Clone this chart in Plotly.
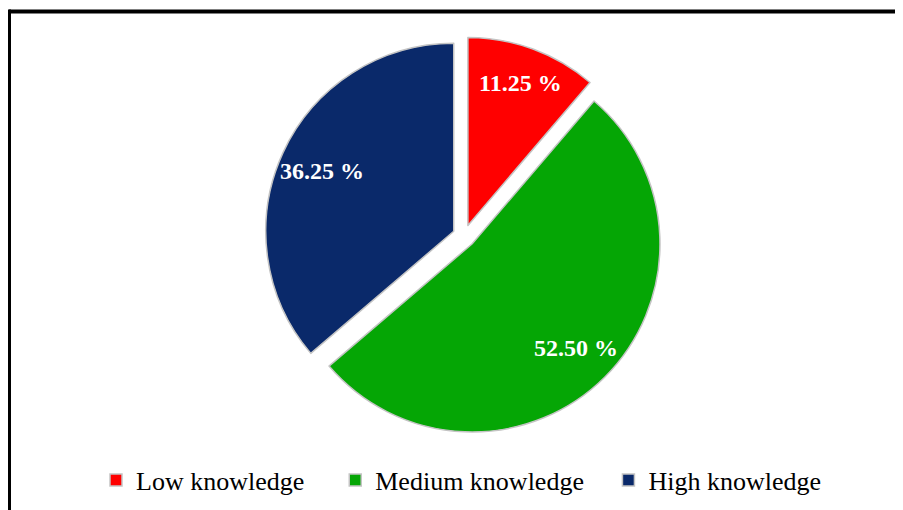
import math
import plotly.graph_objects as go

# ---- data ----
labels = ["Low knowledge", "Medium knowledge", "High knowledge"]
values = [11.25, 52.50, 36.25]
colors = ["#FF0000", "#05A605", "#0A296A"]
label_texts = ["11.25 %", "52.50 %", "36.25 %"]

# ---- layout geometry (page pixels; page body has an 8px margin) ----
OFF = 8
W, H = 903 - OFF, 510 - OFF
CX, CY = 464 - OFF, 236 - OFF   # pie centre
R = 188                         # pie radius
PULL = 0.06
LABEL_FRAC = [0.81, 0.78, 0.77]

box = 2 * R * (1 + PULL)
dom_x = [(CX - box / 2) / W, (CX + box / 2) / W]
dom_y = [1 - (CY + box / 2) / H, 1 - (CY - box / 2) / H]

# trailing non-breaking spaces widen legend entry spacing like the original
pad = [4, 3, 0]
legend_labels = [l + "\u00a0" * p for l, p in zip(labels, pad)]

fig = go.Figure(go.Pie(
    labels=legend_labels,
    values=values,
    sort=False,
    direction="clockwise",
    rotation=0,
    pull=[PULL] * len(values),
    marker=dict(colors=colors, line=dict(color="#C4C4C4", width=1.5)),
    textinfo="none",
    hoverinfo="label+percent",
    domain=dict(x=dom_x, y=dom_y),
))

# slice labels placed along each slice's bisector
annotations = []
total = sum(values)
cum = 0.0
for v, t, f in zip(values, label_texts, LABEL_FRAC):
    mid = (cum + v / 2) / total * 2 * math.pi
    cum += v
    d = (PULL + f) * R
    px = CX + d * math.sin(mid)
    py = CY - d * math.cos(mid)
    annotations.append(dict(
        x=px / W, y=1 - py / H, xref="paper", yref="paper",
        text="<b>" + t + "</b>", showarrow=False,
        font=dict(family="Liberation Serif", size=24, color="white"),
        xanchor="center", yanchor="middle",
    ))

bx, by = 9 - OFF, 11.5 - OFF
shapes = [
    dict(type="line", xref="paper", yref="paper",
         x0=bx / W, x1=1.02, y0=1 - by / H, y1=1 - by / H,
         line=dict(color="black", width=4)),
    dict(type="line", xref="paper", yref="paper",
         x0=bx / W, x1=bx / W, y0=1 - (by - 2) / H, y1=-0.02,
         line=dict(color="black", width=4)),
]

fig.update_layout(
    width=W, height=H,
    margin=dict(l=0, r=0, t=0, b=0),
    paper_bgcolor="white",
    plot_bgcolor="white",
    showlegend=True,
    legend=dict(
        orientation="h",
        x=(111 - OFF - 15) / W, xanchor="left",
        y=1 - (480 - OFF) / H, yanchor="middle",
        font=dict(family="Liberation Serif", size=26, color="black"),
        bgcolor="rgba(0,0,0,0)",
    ),
    annotations=annotations,
    shapes=shapes,
)

fig.write_html("out.html")
